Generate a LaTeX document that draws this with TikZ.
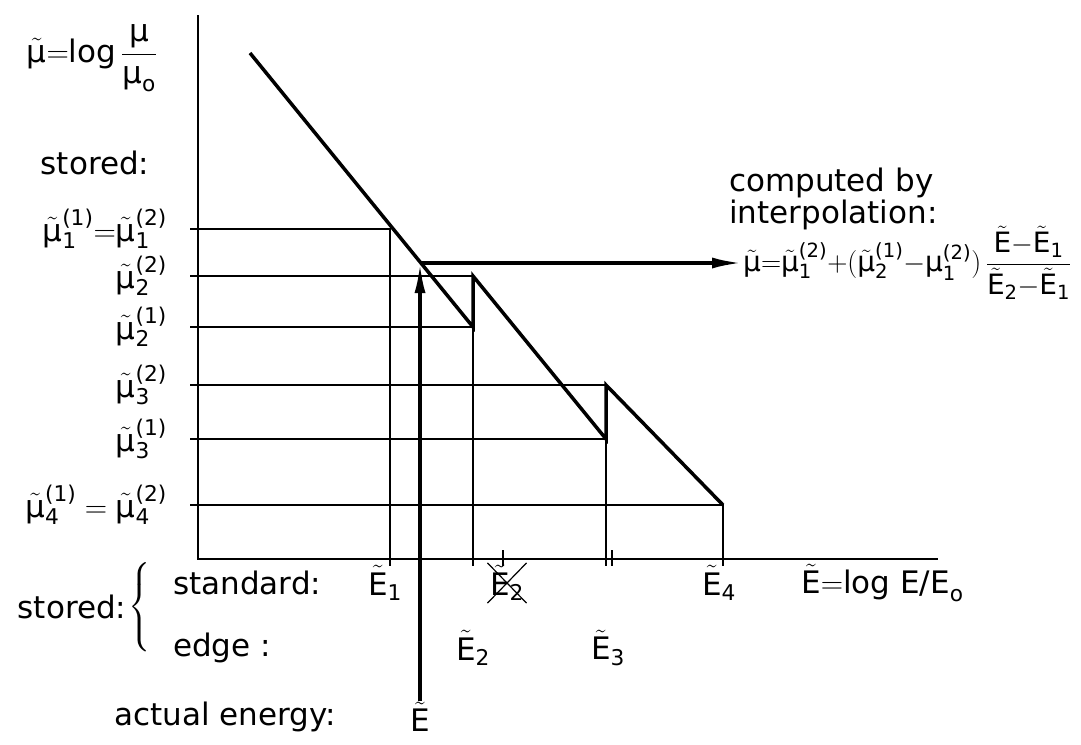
\RequirePackage{fix-cm}
\documentclass[tikz,border=0pt]{standalone}
\usepackage{amsmath}
\usepackage[no-math]{fontspec}
\setmainfont{DejaVu Sans}
\usetikzlibrary{arrows.meta, positioning, calc, shapes.misc}

\newcommand{\tmu}{\tilde{\text{μ}}}
\newcommand{\lev}[2]{\tmu^{\text{(#2)}}_{\text{#1}}}
\newcommand{\tE}{\tilde{\text{E}}}
\newcommand{\Es}[1]{\tE_{\text{#1}}}

\begin{document}
\begin{tikzpicture}[x=1pt, y=-1pt, >={Latex[length=30pt,width=11pt]},
    every node/.style={font=\fontsize{31}{36}\selectfont, inner sep=1pt},
    thin line/.style={line width=1.5pt},
    saw/.style={line width=3.5pt},
    energy/.style={line width=3.5pt, ->}]
    \useasboundingbox (0,0) rectangle (1081,744);

    % Axes
    \coordinate (top) at (198,15);
    \coordinate (O) at (198,559);
    \coordinate (xend) at (938,559);
    \draw[thin line] (top) -- (O) -- (xend);

    % Stored levels and energies
    \foreach \y/\x in {229/390, 276/473, 327/473, 385/606, 439/606, 505/723}
        \draw[thin line] (190,\y) -- (\x,\y) -- (\x,566);
    \draw[thin line] (503,550) -- (503,566);
    \draw[thin line] (612,550) -- (612,566);

    % Tabulated curve
    \draw[saw] (250,53) -- (473,327) -- (473,276) -- (606,439) -- (606,385) -- (723,505);

    % Nodes, left
    \node (mudef) at (92,58) {$\tmu{=}\text{log}\,\dfrac{\text{μ}}{\text{μ}_{\text{o}}}$};
    \node (stored1) at (95,163) {stored:};
    \node (mu1) [anchor=east] at (168,229) {$\lev{1}{1}{=}\lev{1}{2}$};
    \node (mu22) [anchor=east] at (168,276) {$\lev{2}{2}$};
    \node (mu21) [anchor=east] at (168,327) {$\lev{2}{1}$};
    \node (mu32) [anchor=east] at (168,385) {$\lev{3}{2}$};
    \node (mu31) [anchor=east] at (168,439) {$\lev{3}{1}$};
    \node (mu4) [anchor=east] at (168,505) {$\lev{4}{1} = \lev{4}{2}$};

    % Nodes, bottom
    \node (stored2) at (72,607) {stored:};
    \node (brace) [right=0pt of stored2] {$\left\{\rule[-36pt]{0pt}{72pt}\right.$};
    \node (std) [anchor=west] at (172,583) {standard:};
    \node (edge) [anchor=west] at (172,648) {edge :};
    \node (E1) at (385,583) {$\Es{1}$};
    \node (E2x) [cross out, draw, line width=1.2pt, inner sep=2pt] at (507,583) {$\Es{2}$};
    \node (E4) at (719,583) {$\Es{4}$};
    \node (Edef) [anchor=west] at (800,583) {$\tE{=}\text{log E/E}_{\text{o}}$};
    \node (E2) at (473,648) {$\Es{2}$};
    \node (E3) at (608,648) {$\Es{3}$};
    \node (actual) at (225,717) {actual energy:};
    \node (Eact) at (420,717) {$\tE$};

    % Nodes, right
    \node (comp) [anchor=west] at (728,183) {computed by};
    \node (interp) [below=0pt of comp.south west, anchor=north west] {interpolation:};
    \node (formula) [anchor=west, font=\fontsize{28}{32}\selectfont] at (742,263)
        {$\tmu{=}\lev{1}{2}{+}(\lev{2}{1}{-}\text{μ}^{\text{(2)}}_{\text{1}})\,\dfrac{\tE{-}\Es{1}}{\Es{2}{-}\Es{1}}$};

    % Actual energy and interpolation
    \coordinate (hit) at (420,263);
    \draw[energy] (Eact) -- (hit);
    \draw[energy] (hit) -- (hit -| formula.west);
\end{tikzpicture}
\end{document}
